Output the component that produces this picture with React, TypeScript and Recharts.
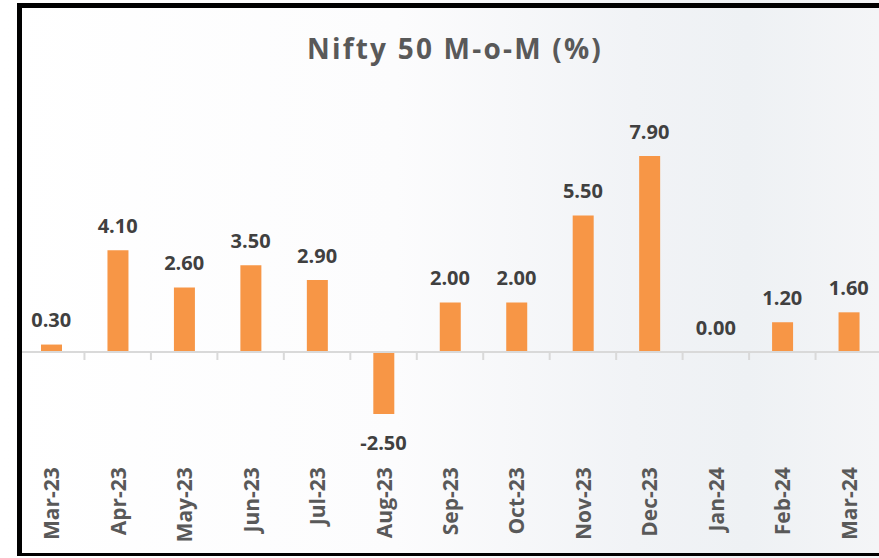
import { ComposedChart, Bar, Line, XAxis, YAxis, ReferenceLine, LabelList } from 'recharts';

const months = ['Mar-23', 'Apr-23', 'May-23', 'Jun-23', 'Jul-23', 'Aug-23', 'Sep-23', 'Oct-23', 'Nov-23', 'Dec-23', 'Jan-24', 'Feb-24', 'Mar-24'];
const momChange = [0.3, 4.1, 2.6, 3.5, 2.9, -2.5, 2.0, 2.0, 5.5, 7.9, 0.0, 1.2, 1.6];

const data = months.map((m, i) => ({ month: m, value: momChange[i] }));

const BAR_COLOR = '#F79646';
const LABEL_FONT = '"Open Sans", sans-serif';

// Excel-style zero line with tick marks between categories
const ZeroLine = (props: any) => {
  const { x1, y1, x2, y2 } = props;
  const step = (x2 - x1) / months.length;
  const ticks = [];
  for (let i = 1; i < months.length; i++) {
    const tx = x1 + i * step;
    ticks.push(<line key={i} x1={tx} y1={y1} x2={tx} y2={y1 + 8} stroke="#d9d9d9" strokeWidth={2} />);
  }
  return (
    <g>
      <line x1={x1} y1={y1} x2={x2} y2={y2} stroke="#d9d9d9" strokeWidth={2} />
      {ticks}
    </g>
  );
};

const MonthTick = (props: any) => {
  const { x, y, payload } = props;
  const top = y + 16;
  return (
    <text
      x={x}
      y={top}
      transform={`rotate(-90, ${x}, ${top})`}
      textAnchor="end"
      dominantBaseline="central"
      fontFamily={LABEL_FONT}
      fontWeight={700}
      fontSize={21}
      fill="#595959"
    >
      {payload.value}
    </text>
  );
};

// labels sit on an invisible line so the 0.00 point still gets one
const ValueLabel = (props: any) => {
  const x = Number(props.x);
  const y = Number(props.y);
  const v = Number(props.value);
  const cy = v >= 0 ? y - 25 : y + 28;
  return (
    <text
      x={x}
      y={cy}
      textAnchor="middle"
      dominantBaseline="central"
      fontFamily={LABEL_FONT}
      fontWeight={700}
      fontSize={20}
      fill="#404040"
    >
      {v.toFixed(2)}
    </text>
  );
};

export default function App() {
  return (
    <div
      style={{
        position: 'absolute',
        left: 0,
        top: 0,
        width: 879,
        height: 558,
        overflow: 'hidden',
        background: 'linear-gradient(90deg, #ffffff 0%, #fcfcfd 45%, #f1f3f6 72%, #eef1f4 85%, #f4f5f7 100%)',
      }}
    >
      <div
        style={{
          position: 'absolute',
          left: 0,
          top: 34,
          width: 910,
          textAlign: 'center',
          fontFamily: LABEL_FONT,
          fontWeight: 700,
          fontSize: 28,
          letterSpacing: 2.2,
          lineHeight: 1,
          color: '#595959',
        }}
      >
        Nifty 50 M-o-M (%)
      </div>
      <div style={{ position: 'absolute', left: 0, top: 0 }}>
        <ComposedChart width={885} height={558} data={data} margin={{ top: 104, right: 3, bottom: 0, left: 18 }}>
          <YAxis hide domain={[-4, 10]} />
          <XAxis
            dataKey="month"
            axisLine={false}
            tickLine={false}
            tickSize={0}
            tickMargin={0}
            height={106.8}
            interval={0}
            tick={<MonthTick />}
          />
          <ReferenceLine y={0} shape={ZeroLine} />
          <Bar dataKey="value" fill={BAR_COLOR} barSize={21} isAnimationActive={false} />
          <Line dataKey="value" stroke="none" dot={false} activeDot={false} isAnimationActive={false}>
            <LabelList dataKey="value" content={ValueLabel} />
          </Line>
        </ComposedChart>
      </div>
      <div
        style={{
          position: 'absolute',
          left: 17,
          top: 3,
          width: 870,
          height: 553,
          boxSizing: 'border-box',
          borderTop: '5px solid #000',
          borderLeft: '5px solid #000',
          borderRight: '3px solid #000',
          borderBottom: '3px solid #000',
          pointerEvents: 'none',
        }}
      />
    </div>
  );
}
